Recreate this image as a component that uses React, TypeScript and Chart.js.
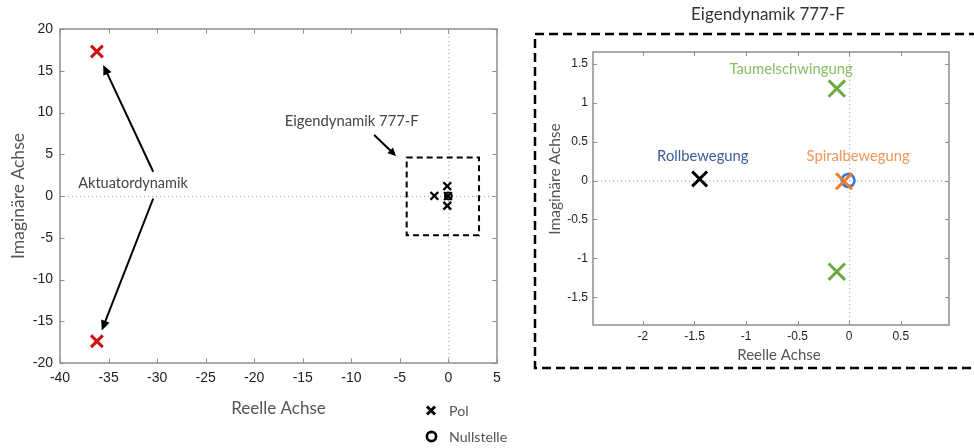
import React, { useEffect, useRef } from "react";
import { Chart, registerables } from "chart.js";
Chart.register(...registerables);

// ---------- data ----------
const leftXTicks = [-40, -35, -30, -25, -20, -15, -10, -5, 0, 5];
const leftYTicks = [-20, -15, -10, -5, 0, 5, 10, 15, 20];
const rightXTicks = [-2, -1.5, -1, -0.5, 0, 0.5];
const rightYTicks = [-1.5, -1, -0.5, 0, 0.5, 1, 1.5];
const rightXTickLabels = ["-2", "-1.5", "-1", "-0.5", "0", "0.5"];
const rightYTickLabels = ["-1.5", "-1", "-0.5", "0", "0.5", "1", "1.5"];

const actuatorPoles = [
  { x: -36.2, y: 17.3 },
  { x: -36.2, y: -17.4 },
];
const rollPole = [{ x: -1.45, y: 0.02 }];
const dutchRollPoles = [
  { x: -0.12, y: 1.18 },
  { x: -0.12, y: -1.17 },
];
const spiralPole = [{ x: -0.05, y: -0.01 }];
const zeros = [{ x: -0.01, y: 0 }];

// zoom box drawn in the left chart (data coordinates)
const zoomBox = { x1: -4.3, x2: 3.15, y1: -4.7, y2: 4.6 };

// ---------- styles ----------
const AX = "#8f8f8f";
const TXT = "#555555";
const TICKTXT = "#1e1e1e";
const LIGHT = "Lato, 'Open Sans', sans-serif";
const TICKF = "'Liberation Sans', Arial, sans-serif";
const W = 400;

function drawArrow(ctx: CanvasRenderingContext2D, x1: number, y1: number, x2: number, y2: number, lw = 2, hl = 10, hw = 4.5) {
  const a = Math.atan2(y2 - y1, x2 - x1);
  const bx = x2 - Math.cos(a) * hl;
  const by = y2 - Math.sin(a) * hl;
  ctx.save();
  ctx.strokeStyle = "#000";
  ctx.fillStyle = "#000";
  ctx.lineWidth = lw;
  ctx.beginPath();
  ctx.moveTo(x1, y1);
  ctx.lineTo(bx + Math.cos(a) * 2, by + Math.sin(a) * 2);
  ctx.stroke();
  ctx.beginPath();
  ctx.moveTo(x2, y2);
  ctx.lineTo(bx + Math.sin(a) * hw, by - Math.cos(a) * hw);
  ctx.lineTo(bx - Math.sin(a) * hw, by + Math.cos(a) * hw);
  ctx.closePath();
  ctx.fill();
  ctx.restore();
}

function zeroLines(chart: any) {
  const ctx = chart.ctx;
  const { left, right, top, bottom } = chart.chartArea;
  const x0 = chart.scales.x.getPixelForValue(0);
  const y0 = chart.scales.y.getPixelForValue(0);
  ctx.save();
  ctx.strokeStyle = "#9a9a9a";
  ctx.lineWidth = 1;
  ctx.setLineDash([1, 3]);
  ctx.beginPath();
  ctx.moveTo(x0 + 0.5, top);
  ctx.lineTo(x0 + 0.5, bottom);
  ctx.moveTo(left, y0 + 0.5);
  ctx.lineTo(right, y0 + 0.5);
  ctx.stroke();
  ctx.restore();
}

function frame(chart: any, xT: number[], yT: number[], xL: string[], yL: string[], font: string, xOff: number, yOff: number, tl: number) {
  const ctx = chart.ctx;
  const { left, right, top, bottom } = chart.chartArea;
  const xs = chart.scales.x;
  const ys = chart.scales.y;
  ctx.save();
  ctx.strokeStyle = AX;
  ctx.lineWidth = 1.5;
  ctx.strokeRect(left, top, right - left, bottom - top);
  ctx.lineWidth = 1;
  ctx.beginPath();
  for (const v of xT) {
    const p = Math.round(xs.getPixelForValue(v)) + 0.5;
    ctx.moveTo(p, bottom); ctx.lineTo(p, bottom - tl);
    ctx.moveTo(p, top); ctx.lineTo(p, top + tl);
  }
  for (const v of yT) {
    const p = Math.round(ys.getPixelForValue(v)) + 0.5;
    ctx.moveTo(left, p); ctx.lineTo(left + tl, p);
    ctx.moveTo(right, p); ctx.lineTo(right - tl, p);
  }
  ctx.stroke();
  ctx.fillStyle = TICKTXT;
  ctx.font = font;
  ctx.textBaseline = "middle";
  ctx.textAlign = "center";
  xT.forEach((v, i) => ctx.fillText(xL[i], xs.getPixelForValue(v), bottom + xOff));
  ctx.textAlign = "right";
  yT.forEach((v, i) => ctx.fillText(yL[i], left - yOff, ys.getPixelForValue(v)));
  ctx.restore();
}

function text(ctx: CanvasRenderingContext2D, s: string, x: number, y: number, font: string, color: string, align: CanvasTextAlign = "center", rot = 0) {
  ctx.save();
  ctx.font = font;
  ctx.fillStyle = color;
  ctx.textAlign = align;
  ctx.textBaseline = "middle";
  ctx.translate(x, y);
  if (rot) ctx.rotate(rot);
  ctx.fillText(s, 0, 0);
  ctx.restore();
}

const leftPlugin = {
  id: "leftDeco",
  beforeDatasetsDraw(chart: any) {
    zeroLines(chart);
  },
  afterDraw(chart: any) {
    const ctx = chart.ctx;
    const xs = chart.scales.x;
    const ys = chart.scales.y;
    const px = (v: number) => xs.getPixelForValue(v);
    const py = (v: number) => ys.getPixelForValue(v);
    frame(chart, leftXTicks, leftYTicks, leftXTicks.map(String), leftYTicks.map(String), `14px ${TICKF}`, 14.7, 7, 4.5);
    const { left, right, top, bottom } = chart.chartArea;
    // axis titles
    text(ctx, "Reelle Achse", (left + right) / 2, bottom + 46, `${W} 17px ${LIGHT}`, TXT);
    text(ctx, "Imaginäre Achse", 18, (top + bottom) / 2, `${W} 17.5px ${LIGHT}`, TXT, "center", -Math.PI / 2);
    // zoom box
    ctx.save();
    ctx.strokeStyle = "#000";
    ctx.lineWidth = 2;
    ctx.setLineDash([6, 4]);
    ctx.strokeRect(px(zoomBox.x1), py(zoomBox.y2), px(zoomBox.x2) - px(zoomBox.x1), py(zoomBox.y1) - py(zoomBox.y2));
    ctx.restore();
    // annotations
    text(ctx, "Aktuatordynamik", px(-32.48), py(1.53), `${W} 14.5px ${LIGHT}`, "#444");
    drawArrow(ctx, px(-30.4), py(2.9), px(-35.55), py(15.7));
    drawArrow(ctx, px(-30.4), py(-0.3), px(-35.7), py(-16.1));
    text(ctx, "Eigendynamik 777-F", px(-9.96), py(9.0), `${W} 14.8px ${LIGHT}`, "#444");
    drawArrow(ctx, px(-7.65), py(7.3), px(-5.4), py(4.8), 2, 8, 4);
    // legend
    ctx.save();
    ctx.strokeStyle = "#000";
    ctx.lineWidth = 3;
    ctx.beginPath();
    ctx.moveTo(427, 406.5); ctx.lineTo(435, 414.5);
    ctx.moveTo(435, 406.5); ctx.lineTo(427, 414.5);
    ctx.stroke();
    ctx.lineWidth = 2.6;
    ctx.beginPath();
    ctx.arc(431.5, 436.5, 4.6, 0, Math.PI * 2);
    ctx.stroke();
    ctx.restore();
    text(ctx, "Pol", 449, 411, `${W} 14.2px ${LIGHT}`, TXT, "left");
    text(ctx, "Nullstelle", 449, 437, `${W} 14.2px ${LIGHT}`, TXT, "left");
  },
};

const rightPlugin = {
  id: "rightDeco",
  beforeDatasetsDraw(chart: any) {
    zeroLines(chart);
  },
  afterDraw(chart: any) {
    const ctx = chart.ctx;
    const xs = chart.scales.x;
    const ys = chart.scales.y;
    const px = (v: number) => xs.getPixelForValue(v);
    const py = (v: number) => ys.getPixelForValue(v);
    frame(chart, rightXTicks, rightYTicks, rightXTickLabels, rightYTickLabels, `12px ${TICKF}`, 11.7, 5, 4);
    const { bottom } = chart.chartArea;
    text(ctx, "Reelle Achse", 249, bottom + 30.5, `${W} 15px ${LIGHT}`, TXT);
    text(ctx, "Imaginäre Achse", 25, 179, `${W} 15.5px ${LIGHT}`, TXT, "center", -Math.PI / 2);
    // title
    text(ctx, "Eigendynamik 777-F", 238, 15, `${W} 17px ${LIGHT}`, "#333");
    // dashed frame
    ctx.save();
    ctx.strokeStyle = "#000";
    ctx.lineWidth = 2.5;
    ctx.setLineDash([9, 5]);
    ctx.strokeRect(5, 34, 520, 334);
    ctx.restore();
    // mode labels
    text(ctx, "Taumelschwingung", px(-0.564), py(1.427), `${W} 14.8px ${LIGHT}`, "#86bd62");
    text(ctx, "Rollbewegung", px(-1.419), py(0.315), `${W} 14.8px ${LIGHT}`, "#3d5c9c");
    text(ctx, "Spiralbewegung", px(0.087), py(0.315), `${W} 14.8px ${LIGHT}`, "#f0955a");
  },
};

function baseOptions(xmin: number, xmax: number, ymin: number, ymax: number, padTop: number, padRight: number, yW: number, xH: number) {
  return {
    responsive: false,
    animation: false as const,
    events: [] as any[],
    layout: { padding: { top: padTop, right: padRight, left: 0, bottom: 0 } },
    plugins: { legend: { display: false }, tooltip: { enabled: false } },
    scales: {
      x: {
        type: "linear" as const,
        min: xmin,
        max: xmax,
        grid: { display: false, drawTicks: false },
        border: { display: false },
        ticks: { display: false },
        afterFit: (s: any) => { s.height = xH; },
      },
      y: {
        type: "linear" as const,
        min: ymin,
        max: ymax,
        grid: { display: false, drawTicks: false },
        border: { display: false },
        ticks: { display: false },
        afterFit: (s: any) => { s.width = yW; },
      },
    },
  };
}

function ds(data: any[], style: string, color: string, radius: number, bw: number) {
  return {
    data,
    showLine: false,
    pointStyle: style,
    pointRadius: radius,
    pointBorderColor: color,
    pointBackgroundColor: "rgba(0,0,0,0)",
    pointBorderWidth: bw,
    borderColor: color,
    backgroundColor: "rgba(0,0,0,0)",
  };
}

export default function App() {
  const leftRef = useRef<HTMLCanvasElement>(null);
  const rightRef = useRef<HTMLCanvasElement>(null);

  useEffect(() => {
    const left = new Chart(leftRef.current!, {
      type: "scatter",
      data: {
        datasets: [
          ds(actuatorPoles, "crossRot", "#cc1010", 8.3, 3),
          ds([...rollPole, ...dutchRollPoles, ...spiralPole], "crossRot", "#000", 5.5, 2.3),
          ds(zeros, "circle", "#000", 3.4, 2),
        ] as any,
      },
      options: baseOptions(-40, 5, -20, 20, 29, 23, 60, 85) as any,
      plugins: [leftPlugin],
    });
    const right = new Chart(rightRef.current!, {
      type: "scatter",
      data: {
        datasets: [
          ds(spiralPole, "crossRot", "#ee7b2e", 11.3, 3),
          ds(zeros, "circle", "#3b78d2", 6.4, 2.6),
          ds(rollPole, "crossRot", "#000", 10.5, 3),
          ds(dutchRollPoles, "crossRot", "#6aaa3e", 11.6, 3),
        ] as any,
      },
      options: baseOptions(-2.484, 0.968, -1.855, 1.65, 52, 25, 63, 123) as any,
      plugins: [rightPlugin],
    });
    return () => {
      left.destroy();
      right.destroy();
    };
  }, []);

  return (
    <div style={{ position: "fixed", left: 0, top: 0, width: 974, height: 448, background: "#fff", overflow: "hidden" }}>
      <canvas ref={leftRef} width={520} height={448} style={{ position: "absolute", left: 0, top: 0 }} />
      <canvas ref={rightRef} width={444} height={448} style={{ position: "absolute", left: 530, top: 0 }} />
    </div>
  );
}
